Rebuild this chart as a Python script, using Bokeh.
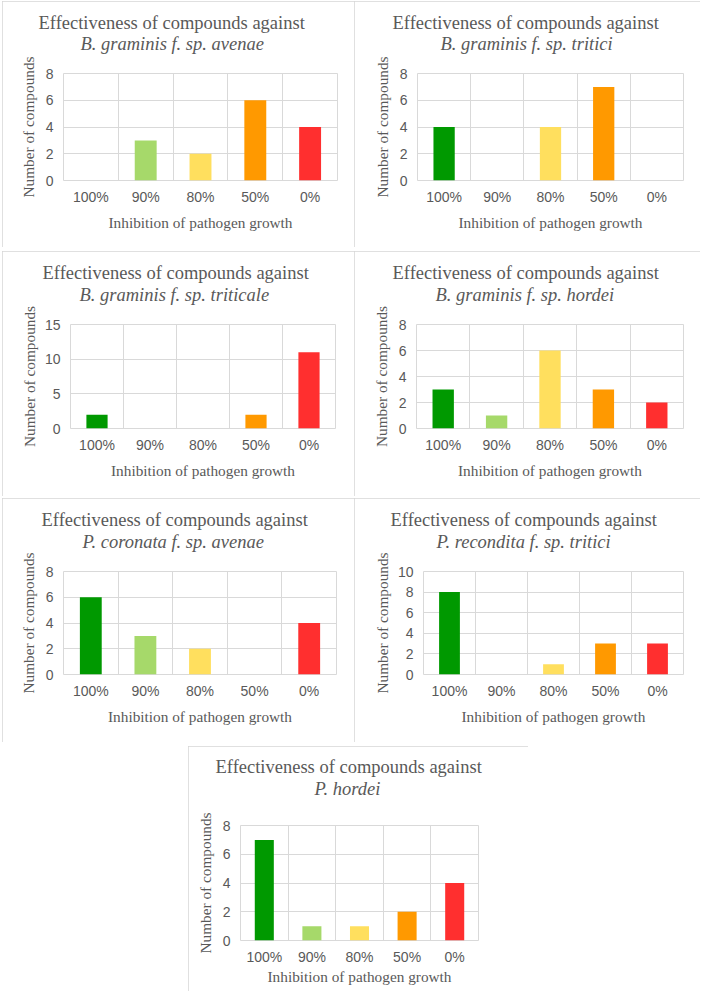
import numpy as np
from bokeh.plotting import figure
from bokeh.models import Range1d, FixedTicker, Title, Spacer, ColumnDataSource
from bokeh.layouts import column, row
from bokeh.embed import file_html
from bokeh.resources import INLINE

# Inhibition classes shared by every panel, with their bar colours
categories = ["100%", "90%", "80%", "50%", "0%"]
bar_colors = ["#009900", "#a6d96a", "#ffdf5e", "#ff9900", "#ff2f2f"]

# Number of compounds in each inhibition class, per pathogen
bg_avenae = [0, 3, 2, 6, 4]
bg_tritici = [4, 0, 4, 7, 0]
bg_triticale = [2, 0, 0, 2, 11]
bg_hordei = [3, 1, 6, 3, 2]
pc_avenae = [6, 3, 2, 0, 4]
pr_tritici = [8, 0, 1, 3, 3]
p_hordei = [7, 1, 1, 2, 4]

pathogens = [
    "B. graminis f. sp. avenae",
    "B. graminis f. sp. tritici",
    "B. graminis f. sp. triticale",
    "B. graminis f. sp. hordei",
    "P. coronata f. sp. avenae",
    "P. recondita f. sp. tritici",
    "P. hordei",
]
counts = [bg_avenae, bg_tritici, bg_triticale, bg_hordei, pc_avenae, pr_tritici, p_hordei]
y_max = [8, 8, 15, 8, 8, 10, 8]
y_step = [2, 2, 5, 2, 2, 2, 2]

TEXT = "#595959"
GRID = "#d9d9d9"
SERIF = "Liberation Serif"
SANS = "Liberation Sans"


def make_panel(name, values, ymax, ystep, size, borders, title_x, title_gap,
               ylab_gap, xlab_gap):
    w, h = size
    left, right, top, bottom = borders
    p = figure(width=w, height=h, x_range=Range1d(0, len(categories)),
               y_range=Range1d(0, ymax), output_backend="svg",
               toolbar_location=None, min_border_left=left,
               min_border_right=right, min_border_top=top,
               min_border_bottom=bottom,
               background_fill_color="white", border_fill_color="white",
               styles={"outline": "1px solid #d6d6d6", "outline-offset": "-1px"})
    p.outline_line_color = GRID

    # two-line heading: the pathogen name (italic) sits directly above the plot
    p.add_layout(Title(text=name, text_font=SERIF, text_font_style="italic",
                       text_font_size="18.5px", text_color=TEXT, align="left",
                       offset=title_x[1], standoff=title_gap[1]), "above")
    p.add_layout(Title(text="Effectiveness of compounds against", text_font=SERIF,
                       text_font_style="normal", text_font_size="18.5px",
                       text_color=TEXT, align="left", offset=title_x[0],
                       standoff=title_gap[0]), "above")

    xs = np.arange(len(categories)) + 0.5
    src = ColumnDataSource(dict(x=xs, top=values, color=bar_colors))
    p.vbar(x="x", top="top", width=0.4, fill_color="color", line_color=None,
           source=src)

    p.xaxis.ticker = FixedTicker(ticks=list(xs))
    p.xaxis.major_label_overrides = {float(x): c for x, c in zip(xs, categories)}
    p.yaxis.ticker = FixedTicker(ticks=list(range(0, ymax + 1, ystep)))
    p.xgrid.ticker = FixedTicker(ticks=list(range(1, len(categories))))
    p.ygrid.ticker = FixedTicker(ticks=list(range(ystep, ymax, ystep)))
    p.xgrid.grid_line_color = GRID
    p.ygrid.grid_line_color = GRID

    p.xaxis.axis_label = "Inhibition of pathogen growth"
    p.yaxis.axis_label = "Number of compounds"
    for ax in (p.xaxis[0], p.yaxis[0]):
        ax.axis_line_color = None
        ax.major_tick_line_color = None
        ax.minor_tick_line_color = None
        ax.major_tick_out = 0
        ax.major_tick_in = 0
        ax.minor_tick_out = 0
        ax.minor_tick_in = 0
        ax.major_label_text_font = SANS
        ax.major_label_text_font_size = "14px"
        ax.major_label_text_color = TEXT
        ax.axis_label_text_font = SERIF
        ax.axis_label_text_font_style = "normal"
        ax.axis_label_text_font_size = "15.3px"
        ax.axis_label_text_color = TEXT
    p.xaxis.major_label_standoff = 8
    p.yaxis.major_label_standoff = 10
    p.xaxis.axis_label_standoff = xlab_gap
    p.yaxis.axis_label_standoff = ylab_gap
    return p


sizes = [(352, 246), (346, 246), (352, 245), (346, 245), (352, 244), (346, 244), (340, 245)]
borders = [(61, 17, 72, 67), (63, 17, 72, 67), (68, 19, 73, 68), (62, 17, 73, 68),
           (61, 18, 73, 68), (69, 17, 73, 68), (52, 50, 79, 51)]
title_x = [(-25, 17), (-25, 23), (-28, 9), (-24, 19), (-22, 19), (-33, 13), (-25, 74)]
title_gap = [(-40, 39), (-40, 39), (-40, 40), (-40, 40), (-40, 40), (-40, 40), (-53, 53)]
ylab_gap = [6, 6, 4, 6, 6, 4, 6]
xlab_gap = [6, 6, 6, 6, 6, 6, 0]

panels = [make_panel(pathogens[i], counts[i], y_max[i], y_step[i], sizes[i],
                     borders[i], title_x[i], title_gap[i], ylab_gap[i], xlab_gap[i])
          for i in range(7)]

page = column(
    Spacer(height=1),
    row(Spacer(width=2), panels[0], panels[1]),
    Spacer(height=4),
    row(Spacer(width=2), panels[2], panels[3]),
    Spacer(height=2),
    row(Spacer(width=2), panels[4], panels[5]),
    Spacer(height=4),
    row(Spacer(width=188), panels[6]),
)

open("out.html", "w").write(file_html(page, INLINE))
